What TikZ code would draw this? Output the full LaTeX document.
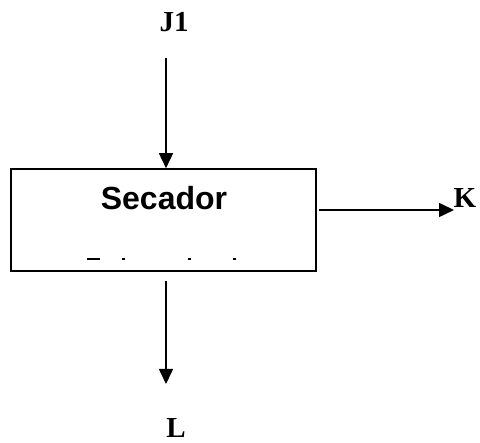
\documentclass[tikz,border=0pt]{standalone}
\usepackage{fontspec}
\setmainfont{Liberation Serif}
\setsansfont{Liberation Sans}
\usetikzlibrary{arrows.meta}
\begin{document}
\begin{tikzpicture}[x=1pt,y=-1pt,
  flow/.style={line width=1.6pt,-{Triangle[length=15pt,width=14pt]}},
  lbl/.style={font=\bfseries\fontsize{29}{32}\selectfont,inner sep=0pt},
  unit/.style={draw,line width=1.6pt,minimum width=305pt,minimum height=102pt,inner sep=0pt}]
  \useasboundingbox (0,0) rectangle (480,443);
  % dryer unit
  \node[unit] (dryer) at (163.5,220) {};
  \node[font=\sffamily\bfseries\fontsize{32}{36}\selectfont,inner sep=0pt] (title) at (164,198) {Secador};
  % stream labels
  \node[lbl] (j1) at (174,22) {J1};
  \node[lbl] (k) at (465,198) {K};
  \node[lbl] (l) at (176,428) {L};
  % stream ends
  \coordinate (jin) at (166,58);
  \coordinate (kout) at (319,210);
  \coordinate (ktip) at (454,210);
  \coordinate (lout) at (166,281);
  \coordinate (ltip) at (166,384);
  \draw[flow] (jin) -- (jin |- dryer.north);
  \draw[flow] (kout) -- (ktip);
  \draw[flow] (lout) -- (ltip);
  % partly hidden caption marks
  \fill (87,258) rectangle (100,260);
  \fill (122,258) rectangle (125,260);
  \fill (188,258) rectangle (191,260);
  \fill (233,258) rectangle (236,260);
\end{tikzpicture}
\end{document}
